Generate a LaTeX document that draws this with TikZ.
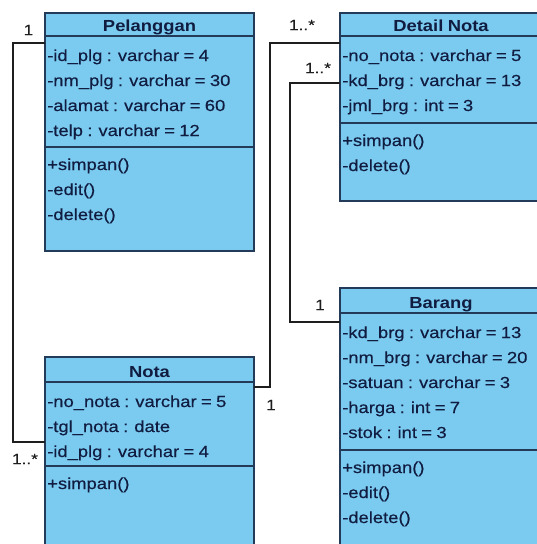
\documentclass[tikz,border=0pt]{standalone}
\usepackage{fontspec}
\setmainfont{Liberation Sans}[FakeStretch=1.15, WordSpace=0.85, UprightFeatures={FakeBold=0.3}]
\definecolor{boxfill}{RGB}{123,202,240}
\definecolor{boxline}{RGB}{35,58,88}
\definecolor{txtcol}{RGB}{16,28,64}
\definecolor{conncol}{RGB}{30,30,30}
\tikzset{
  classbox/.style={draw=boxline, fill=boxfill, line width=2pt, inner sep=0pt, outer sep=0pt, anchor=north west},
  sepline/.style={draw=boxline, line width=2pt},
  txt/.style={anchor=base west, inner sep=0pt, text=txtcol, font=\fontsize{16}{19}\selectfont},
  ttl/.style={anchor=base, inner sep=0pt, text=txtcol, font=\fontsize{16}{19}\selectfont\bfseries},
  mult/.style={inner sep=0pt, text=conncol, font=\fontsize{15}{18}\selectfont},
  conn/.style={draw=conncol, line width=1.4pt}
}
\begin{document}
\begin{tikzpicture}[x=1pt,y=-1pt]
\useasboundingbox (0,0) rectangle (537,544);
\clip (0,0) rectangle (537,544);

% ---- Pelanggan
\node[classbox, minimum width=209pt, minimum height=238pt] (pel) at (45,13) {};
\draw[sepline] (45,36) -- (254,36);
\draw[sepline] (45,147) -- (254,147);
\node[ttl] (pelt) at (149.5,31) {Pelanggan};
\node[txt] (pela1) at (47,61) {-id\_plg : varchar = 4};
\node[txt] (pela2) at (47,86) {-nm\_plg : varchar = 30};
\node[txt] (pela3) at (47,111) {-alamat : varchar = 60};
\node[txt] (pela4) at (47,136) {-telp : varchar = 12};
\node[txt] (pelo1) at (47,170) {+simpan()};
\node[txt] (pelo2) at (47,195) {-edit()};
\node[txt] (pelo3) at (47,220) {-delete()};

% ---- Detail Nota
\node[classbox, minimum width=202pt, minimum height=188pt] (det) at (340,13) {};
\draw[sepline] (340,36) -- (560,36);
\draw[sepline] (340,123) -- (560,123);
\node[ttl] (dett) at (441,31) {Detail Nota};
\node[txt] (deta1) at (342,61) {-no\_nota : varchar = 5};
\node[txt] (deta2) at (342,86) {-kd\_brg : varchar = 13};
\node[txt] (deta3) at (342,111) {-jml\_brg : int = 3};
\node[txt] (deto1) at (342,146) {+simpan()};
\node[txt] (deto2) at (342,171) {-delete()};

% ---- Barang
\node[classbox, minimum width=202pt, minimum height=280pt] (bar) at (340,288) {};
\draw[sepline] (340,313) -- (560,313);
\draw[sepline] (340,450) -- (560,450);
\node[ttl] (bart) at (441,308) {Barang};
\node[txt] (bara1) at (342,338) {-kd\_brg : varchar = 13};
\node[txt] (bara2) at (342,363) {-nm\_brg : varchar = 20};
\node[txt] (bara3) at (342,388) {-satuan : varchar = 3};
\node[txt] (bara4) at (342,413) {-harga : int = 7};
\node[txt] (bara5) at (342,438) {-stok : int = 3};
\node[txt] (baro1) at (342,473) {+simpan()};
\node[txt] (baro2) at (342,498) {-edit()};
\node[txt] (baro3) at (342,523) {-delete()};

% ---- Nota
\node[classbox, minimum width=209pt, minimum height=210pt] (nota) at (45,357) {};
\draw[sepline] (45,382) -- (254,382);
\draw[sepline] (45,466) -- (254,466);
\node[ttl] (notat) at (149.5,377) {Nota};
\node[txt] (notaa1) at (47,407) {-no\_nota : varchar = 5};
\node[txt] (notaa2) at (47,432) {-tgl\_nota : date};
\node[txt] (notaa3) at (47,457) {-id\_plg : varchar = 4};
\node[txt] (notao1) at (47,489) {+simpan()};

% ---- connectors
\coordinate (k1a) at (13,43);
\coordinate (k1b) at (13,442);
\draw[conn] (pel.west |- k1a) -- (k1a) -- (k1b) -- (nota.west |- k1b);
\node[mult] (m1a) at (28.5,30) {1};
\node[mult] (m1b) at (25,459) {1..*};

\coordinate (k2a) at (270,387);
\coordinate (k2b) at (270,43);
\draw[conn] (nota.east |- k2a) -- (k2a) -- (k2b) -- (det.west |- k2b);
\node[mult] (m2a) at (271,405) {1};
\node[mult] (m2b) at (302,25) {1..*};

\coordinate (k3a) at (290,83);
\coordinate (k3b) at (290,322);
\draw[conn] (det.west |- k3a) -- (k3a) -- (k3b) -- (bar.west |- k3b);
\node[mult] (m3a) at (318,68) {1..*};
\node[mult] (m3b) at (320,305) {1};
\end{tikzpicture}
\end{document}
